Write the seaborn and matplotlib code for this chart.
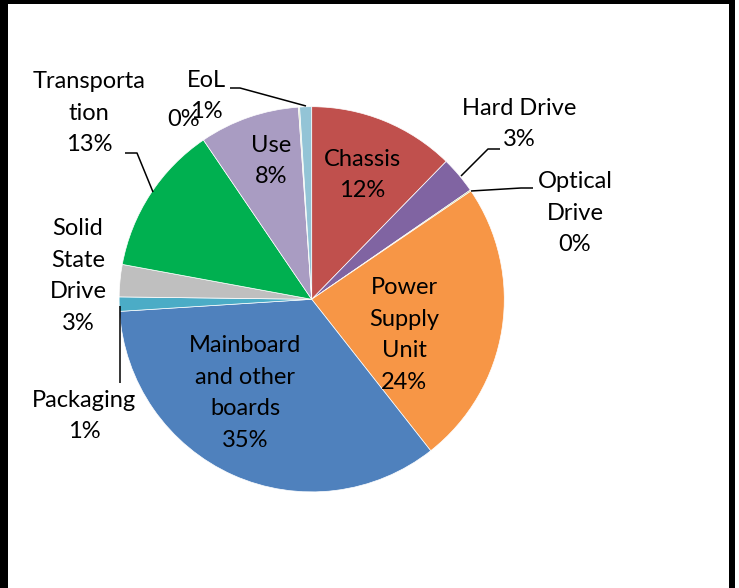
import matplotlib
matplotlib.use("Agg")
import matplotlib.pyplot as plt
import seaborn as sns
from matplotlib.patches import Rectangle

# ---- data ----
categories = ["Chassis", "Hard Drive", "Optical Drive", "Power Supply Unit",
              "Mainboard and other boards", "Packaging", "Solid State Drive",
              "Transportation", "Use", "", "EoL"]
values = [12.3, 3.1, 0.1, 23.9, 34.6, 1.2, 2.7, 12.6, 8.4, 0.1, 1.0]
label_names = ["Chassis", "Hard Drive", "Optical\nDrive", "Power\nSupply\nUnit",
               "Mainboard\nand other\nboards", "Packaging", "Solid\nState\nDrive",
               "Transporta\ntion", "Use", "", "EoL"]

# ---- style ----
sns.set_theme(style="white")
plt.rcParams['font.family'] = ['Lato', 'DejaVu Sans']
colors = sns.color_palette(["#C0504D", "#8064A2", "#9BBB59", "#F79646", "#4F81BD",
                            "#4BACC6", "#BFBFBF", "#00B050", "#A99CC2", "#C6D9A0",
                            "#93C4D6"])

W, H = 739, 588
fig = plt.figure(figsize=(W / 100, H / 100), dpi=100)
fig.patch.set_facecolor("white")
ax = fig.add_axes([0, 0, 1, 1])

def P(x, y):
    return (x, H - y)

cx, cy, r = 311.7, 299.3, 192.6
ax.pie(values, colors=colors, startangle=90, counterclock=False,
       center=P(cx, cy), radius=r,
       wedgeprops=dict(edgecolor="white", linewidth=0.5))
ax.set_aspect("auto")
ax.set_xlim(0, W)
ax.set_ylim(0, H)
ax.axis("off")

total = sum(values)
pct = [f"{round(v / total * 100):.0f}%" for v in values]

# label block centres (pixels, top-left origin)
label_pos = [(362, 175), (519, 124), (575, 213), (404, 335), (245, 393),
             (84, 416), (78, 276), (89, 113), (271, 161), (184, 119), (206, 96)]
for name, p, (lx, ly) in zip(label_names, pct, label_pos):
    txt = f"{name}\n{p}" if name else p
    ax.text(*P(lx, ly), txt, ha="center", va="center", fontsize=17,
            linespacing=1.62, color="black")

# leader lines
leaders = [
    [(230, 88), (240, 88), (306, 106)],
    [(500, 149), (488, 149), (461, 176)],
    [(471, 191), (521, 188), (533, 188)],
    [(125, 153), (137, 153), (153, 192)],
    [(120, 306), (120, 383)],
]
for pts in leaders:
    xs = [p[0] for p in pts]
    ys = [H - p[1] for p in pts]
    ax.plot(xs, ys, color="black", linewidth=1.1, solid_capstyle="butt")

# outer frame (left, top, right)
for (x0, y0, w, h) in [(0, 0, 8, H), (0, 0, 735, 4), (729, 0, 6, H)]:
    ax.add_patch(Rectangle((x0, H - y0 - h), w, h, facecolor="black",
                           edgecolor="none", clip_on=False))

fig.savefig("out.png", dpi=100, facecolor="white")
